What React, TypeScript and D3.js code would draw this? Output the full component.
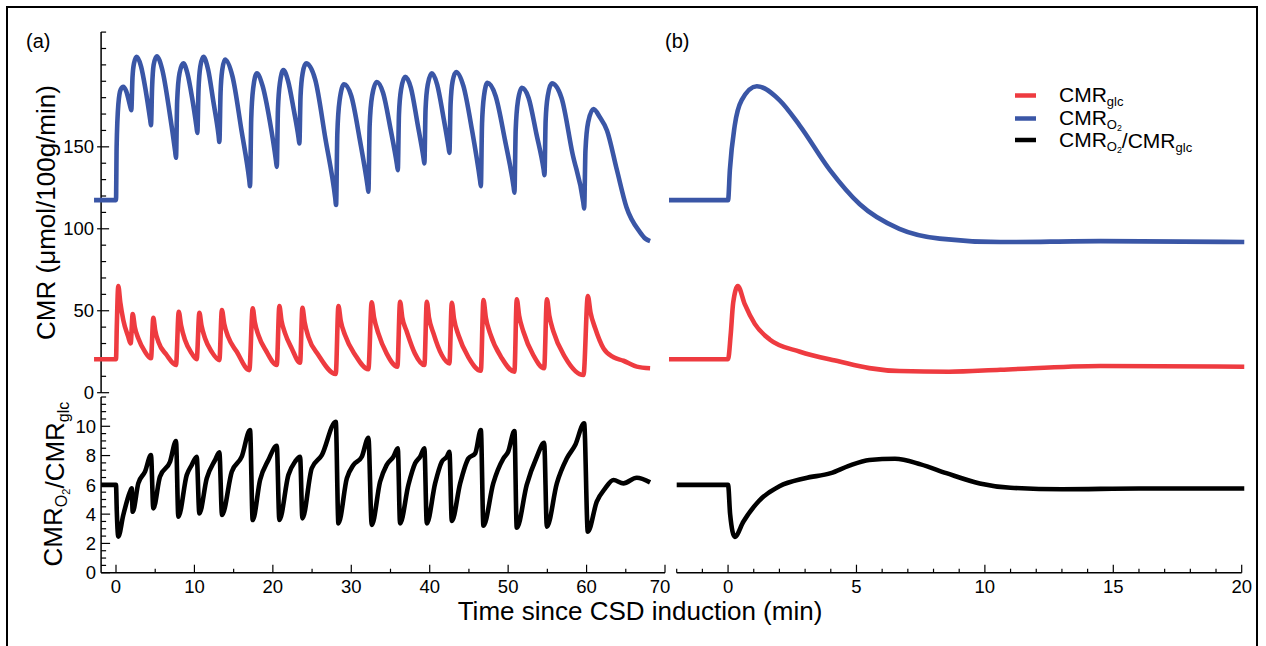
import { useEffect } from "react";
import * as d3 from "d3";

type Pt = [number, number];

// time (min), CMR_O2 (umol/100g/min) -- panel (a)
const o2Repeated: Pt[] = [
  [-2.8, 117.5], [0, 117.5], [0.08, 150], [0.3, 176], [0.6, 185], [0.93, 186.6],
  [1.3, 184], [1.85, 174], [1.95, 172.4], [2.1, 192], [2.3, 201], [2.64, 204.9],
  [3.2, 199], [3.8, 184], [4.36, 166.5], [4.46, 163.2], [4.6, 186], [4.8, 200], [5.19, 205.3],
  [5.9, 197], [6.8, 172], [7.55, 147], [7.65, 143.3], [7.8, 178], [8.1, 195], [8.58, 200.9],
  [9.1, 195], [9.7, 180], [10.27, 162], [10.37, 158.5], [10.52, 185], [10.75, 199], [11.14, 204.9],
  [11.75, 197], [12.4, 178], [13.08, 157], [13.18, 153], [13.33, 183], [13.55, 197], [13.9, 203.3],
  [14.85, 193], [16.0, 160], [16.99, 130], [17.09, 126], [17.24, 167], [17.5, 186], [17.95, 194.8],
  [18.7, 187], [19.6, 166], [20.4, 141.5], [20.5, 137.8], [20.65, 173], [20.9, 189], [21.34, 196.8],
  [21.95, 190], [22.65, 173], [23.28, 155.5], [23.38, 152], [23.53, 181], [23.8, 195], [24.23, 200.9],
  [25.4, 191], [26.7, 155], [27.96, 118.5], [28.06, 114.5], [28.22, 158], [28.5, 178], [29.08, 188.2],
  [30.0, 181], [31.1, 154], [32.08, 126], [32.18, 122.6], [32.34, 163], [32.65, 181], [33.25, 189.6],
  [34.05, 183], [35.0, 161], [35.83, 139], [35.93, 135.8], [36.08, 170], [36.35, 185], [36.86, 192.7],
  [37.6, 186], [38.45, 164], [39.22, 143], [39.32, 139.9], [39.47, 173], [39.75, 188], [40.27, 194.8],
  [40.95, 188], [41.75, 168], [42.41, 149.5], [42.51, 146.3], [42.66, 176], [42.92, 190], [43.37, 195.7],
  [44.3, 187], [45.4, 160], [46.42, 129.5], [46.52, 126], [46.67, 164], [46.92, 181], [47.36, 189],
  [48.4, 181], [49.6, 154], [50.7, 125.5], [50.8, 122], [50.96, 160], [51.25, 178], [51.75, 186],
  [52.6, 180], [53.6, 158], [54.53, 136], [54.63, 132.7], [54.78, 166], [55.05, 181], [55.57, 188.7],
  [56.8, 180], [58.2, 146], [59.59, 116], [59.69, 112.4], [59.86, 148], [60.2, 165], [60.88, 173],
  [61.7, 168], [62.6, 160], [63.86, 136], [65.1, 113], [66.8, 98], [67.5, 94], [68.1, 92.5],
];

// time (min), CMR_glc -- panel (a)
const glcRepeated: Pt[] = [
  [-2.8, 20.4], [0, 20.4], [0.1, 40], [0.29, 65], [0.55, 55], [0.93, 44.3], [1.56, 34.1], [1.87, 30.1],
  [2.13, 48], [2.4, 40], [2.84, 33.2], [3.7, 25], [4.46, 21],
  [4.76, 45.7], [5.0, 38], [5.4, 31.1], [6.46, 23], [7.65, 16.9],
  [8.0, 49.4], [8.3, 41], [8.8, 32.1], [9.65, 24], [10.29, 20.4],
  [10.63, 48.8], [10.9, 41], [11.35, 33.2], [12.2, 25], [13.18, 19.9],
  [13.5, 50.4], [13.8, 42], [14.3, 34.1], [15.4, 25], [17.0, 13.8],
  [17.43, 51.5], [17.7, 43], [18.15, 35.2], [19.2, 25], [20.5, 16.9],
  [20.83, 52.9], [21.1, 44], [21.56, 36.2], [22.41, 27], [23.47, 18.3],
  [23.77, 51.8], [24.05, 43], [24.53, 34.1], [25.8, 23], [28.02, 11.4],
  [28.36, 52.9], [28.65, 44], [29.2, 35.2], [30.5, 23], [32.18, 14.3],
  [32.6, 55.1], [32.9, 46], [33.45, 36.2], [34.5, 24], [35.88, 15.9],
  [36.22, 55.5], [36.5, 46], [37.08, 37.2], [38.1, 24], [39.32, 16.9],
  [39.63, 55.5], [39.9, 46], [40.48, 36.2], [41.54, 23], [42.51, 17.9],
  [42.82, 54.9], [43.1, 45], [43.66, 35.2], [44.94, 21.6], [46.52, 13.4],
  [46.85, 56.5], [47.15, 46], [47.7, 36.2], [49.2, 21], [50.8, 12.8],
  [51.1, 57], [51.4, 47], [51.95, 37.2], [53.2, 23], [54.59, 14.9],
  [54.94, 57], [55.25, 47], [55.78, 37.2], [57.27, 21.6], [59.61, 10.8],
  [60.16, 59], [60.5, 49], [61.1, 39.3], [62.16, 27], [63.44, 21.6], [64.7, 19.5], [66.4, 15.9], [68.1, 14.9],
];

// time (min), CMR_O2 / CMR_glc -- panel (a)
const ratioRepeated: Pt[] = [
  [-1.9, 6], [0, 6], [0.1, 4.2], [0.29, 2.46], [0.93, 3.94], [1.79, 5.53], [2.0, 5.76], [2.13, 4.16],
  [2.84, 6.1], [3.7, 6.9], [4.46, 8.03], [4.76, 4.39],
  [5.6, 6.55], [6.89, 7.58], [7.65, 8.99], [7.95, 3.82],
  [9.02, 6.67], [9.65, 7.35], [10.29, 7.92], [10.63, 4.05],
  [11.57, 6.44], [12.63, 7.69], [13.18, 8.22], [13.52, 3.94],
  [14.76, 6.89], [16.03, 7.92], [17.09, 9.74], [17.43, 3.6],
  [18.37, 6.33], [19.43, 7.69], [20.5, 8.67], [20.83, 3.6],
  [21.98, 6.67], [22.83, 7.58], [23.47, 7.92], [23.77, 3.71],
  [24.96, 7.13], [26.24, 8.03], [28.02, 10.31], [28.36, 3.37],
  [29.43, 6.44], [30.27, 7.35], [31.34, 7.92], [32.18, 9.22], [32.61, 3.26],
  [33.67, 6.21], [34.5, 7.35], [35.37, 7.92], [35.93, 8.49], [36.22, 3.37],
  [37.28, 5.99], [38.14, 7.47], [38.78, 7.92], [39.32, 8.49], [39.63, 3.37],
  [40.69, 6.1], [41.54, 7.58], [42.18, 7.92], [42.51, 8.26], [42.82, 3.53],
  [43.88, 6.1], [44.94, 7.81], [45.8, 8.15], [46.52, 9.74], [46.85, 3.21],
  [48.1, 6.1], [49.4, 7.81], [50.0, 8.26], [50.8, 9.67], [51.1, 3.07],
  [52.37, 5.99], [53.66, 7.92], [54.59, 8.87], [54.94, 3.14],
  [56.21, 6.1], [57.49, 7.81], [58.55, 8.72], [59.69, 10.2], [60.16, 2.8],
  [61.3, 4.85], [62.37, 5.76], [63.43, 6.33], [64.7, 6.1], [66.4, 6.49], [68.1, 6.17],
];

// panel (b): single wave
const o2Single: Pt[] = [
  [-2.3, 117.5], [0, 117.5], [0.07, 135.8], [0.26, 163], [0.53, 178.5], [1.12, 187],
  [2.0, 178.5], [2.79, 163], [3.96, 136], [5.13, 115], [6.67, 100], [8.24, 94],
  [10.6, 91.9], [14.5, 92.5], [20.1, 91.9],
];
const glcSingle: Pt[] = [
  [-2.3, 20.4], [0, 20.4], [0.1, 35], [0.2, 55], [0.38, 65], [0.65, 54], [1.04, 42],
  [1.62, 32.5], [2.8, 25], [4.34, 19], [5.5, 15], [6.67, 13.2], [8.6, 12.8],
  [10.6, 14], [14.5, 16.3], [20.1, 15.8],
];
const ratioSingle: Pt[] = [
  [-2, 6], [0, 6], [0.08, 4], [0.26, 2.45], [0.6, 3.5], [1.2, 4.9], [2.0, 5.9], [3.0, 6.45],
  [4.0, 6.8], [4.7, 7.3], [5.5, 7.7], [6.5, 7.78], [7.5, 7.4], [8.5, 6.8], [9.8, 6.1],
  [11.0, 5.8], [13.0, 5.7], [16, 5.75], [20.1, 5.75],
];

const cmrLabels = [0, 50, 100, 150];
const ratioLabels = [0, 2, 4, 6, 8, 10];
const timeLabelsA = [0, 10, 20, 30, 40, 50, 60, 70];
const timeLabelsB = [0, 5, 10, 15, 20];

const RED = "#ee3b40";
const BLUE = "#3a56a6";
const FONT = "'Liberation Sans', Arial, Helvetica, sans-serif";

const xA = d3.scaleLinear().domain([-1.9, 70]).range([101.1, 665]);
const xB = d3.scaleLinear().domain([-2, 20]).range([676.7, 1241.7]);
const yTop = d3.scaleLinear().domain([0, 220]).range([392.7, 32.1]);
const yBot = d3.scaleLinear().domain([0, 12]).range([572.7, 397]);

function path(data: Pt[], x: d3.ScaleLinear<number, number>, y: d3.ScaleLinear<number, number>) {
  return (
    d3
      .line<Pt>()
      .x((d) => x(d[0]))
      .y((d) => y(d[1]))
      .curve(d3.curveMonotoneX)(data) || ""
  );
}

function Sub({ o2 }: { o2: boolean }) {
  return o2 ? (
    <>
      <tspan fontSize="0.62em" dy="0.3em">O</tspan>
      <tspan fontSize="0.42em" dy="0.25em">2</tspan>
    </>
  ) : (
    <tspan fontSize="0.62em" dy="0.3em">glc</tspan>
  );
}

export default function App() {
  useEffect(() => {
    document.body.style.margin = "0";
  }, []);

  const axisX = 101.1;
  const axisY = 572.7;
  const minorTop = d3.range(0, 221, 10);
  const minorBot = d3.range(0, 12.01, 0.5);
  const minorA = d3.range(5, 70, 10);
  const minorB = d3.range(-2, 21, 1);

  return (
    <svg width={1266} height={646} style={{ display: "block", fontFamily: FONT }}>
      <rect x={0} y={0} width={1266} height={646} fill="#fff" />
      <path d="M7,660 V7 H1257 V660" fill="none" stroke="#000" strokeWidth={2} />

      {/* y axes */}
      <line x1={axisX} x2={axisX} y1={yTop(220)} y2={yTop(0)} stroke="#000" strokeWidth={1.5} />
      {minorTop.map((v) => {
        const major = cmrLabels.includes(v);
        return (
          <line key={"mt" + v} x1={major ? axisX - 4 : axisX} x2={axisX + (major ? 8 : 5)}
            y1={yTop(v)} y2={yTop(v)} stroke="#000" strokeWidth={1.2} />
        );
      })}
      {cmrLabels.map((v) => (
        <text key={"lt" + v} x={94} y={yTop(v)} dy="0.36em" textAnchor="end" fontSize={18.5}>{v}</text>
      ))}
      <line x1={axisX} x2={axisX} y1={yBot(12)} y2={yBot(0)} stroke="#000" strokeWidth={1.5} />
      {minorBot.map((v) => {
        const major = ratioLabels.includes(v);
        return (
          <line key={"mb" + v} x1={axisX} x2={axisX + (major ? 9 : 5)}
            y1={yBot(v)} y2={yBot(v)} stroke="#000" strokeWidth={1.2} />
        );
      })}
      {ratioLabels.map((v) => (
        <text key={"lb" + v} x={96} y={yBot(v)} dy="0.36em" textAnchor="end" fontSize={18.5}>{v}</text>
      ))}

      {/* x axes */}
      <line x1={axisX} x2={xA(70)} y1={axisY} y2={axisY} stroke="#000" strokeWidth={1.5} />
      {minorA.map((t) => (
        <line key={"xa" + t} x1={xA(t)} x2={xA(t)} y1={axisY} y2={axisY - 4} stroke="#000" strokeWidth={1.2} />
      ))}
      {timeLabelsA.map((t) => (
        <g key={"la" + t}>
          <line x1={xA(t)} x2={xA(t)} y1={axisY} y2={axisY - 8} stroke="#000" strokeWidth={1.2} />
          <text x={t === 70 ? xA(t) - 5 : xA(t)} y={593} textAnchor="middle" fontSize={18.5}>{t}</text>
        </g>
      ))}
      <line x1={xB(-2)} x2={xB(20)} y1={axisY} y2={axisY} stroke="#000" strokeWidth={1.5} />
      {minorB.map((t) => (
        <line key={"xb" + t} x1={xB(t)} x2={xB(t)} y1={axisY} y2={axisY - (t % 5 === 0 ? 8 : 4)}
          stroke="#000" strokeWidth={1.2} />
      ))}
      {timeLabelsB.map((t) => (
        <text key={"lbb" + t} x={xB(t)} y={593} textAnchor="middle" fontSize={18.5}>{t}</text>
      ))}

      {/* series */}
      <g fill="none" strokeWidth={4.6} strokeLinejoin="round">
        <path d={path(o2Repeated, xA, yTop)} stroke={BLUE} />
        <path d={path(glcRepeated, xA, yTop)} stroke={RED} />
        <path d={path(ratioRepeated, xA, yBot)} stroke="#000" />
        <path d={path(o2Single, xB, yTop)} stroke={BLUE} />
        <path d={path(glcSingle, xB, yTop)} stroke={RED} />
        <path d={path(ratioSingle, xB, yBot)} stroke="#000" />
      </g>

      {/* panel labels */}
      <text x={26} y={48} fontSize={20}>(a)</text>
      <text x={665} y={48} fontSize={20}>(b)</text>

      {/* axis titles */}
      <text x={640} y={620} textAnchor="middle" fontSize={26}>Time since CSD induction (min)</text>
      <text transform="translate(54.5,212.5) rotate(-90)" textAnchor="middle" fontSize={26}>
        CMR (μmol/100g/min)
      </text>
      <text transform="translate(62,484) rotate(-90)" textAnchor="middle" fontSize={26}>
        CMR<Sub o2 /><tspan dy="-0.226em">/CMR</tspan><Sub o2={false} />
      </text>

      {/* legend */}
      <g fontSize={21}>
        <line x1={1015} x2={1036} y1={95.5} y2={95.5} stroke={RED} strokeWidth={4.5} />
        <text x={1059} y={102}>CMR<Sub o2={false} /></text>
        <line x1={1015} x2={1036} y1={118.5} y2={118.5} stroke={BLUE} strokeWidth={4.5} />
        <text x={1059} y={125}>CMR<Sub o2 /></text>
        <line x1={1015} x2={1036} y1={140} y2={140} stroke="#000" strokeWidth={4.5} />
        <text x={1059} y={146.7}>CMR<Sub o2 /><tspan dy="-0.226em">/CMR</tspan><Sub o2={false} /></text>
      </g>
    </svg>
  );
}
